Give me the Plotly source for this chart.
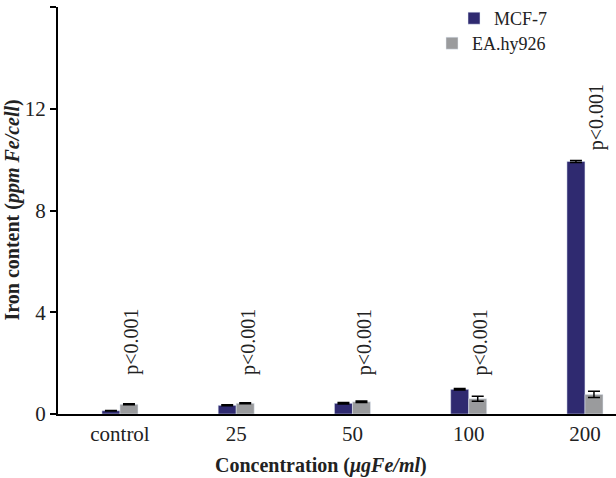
import plotly.graph_objects as go

categories = ["control", "25", "50", "100", "200"]
mcf7 = [0.13, 0.34, 0.42, 0.97, 9.93]
mcf7_err = [0.01, 0.02, 0.03, 0.03, 0.04]
ea = [0.38, 0.42, 0.48, 0.60, 0.77]
ea_err = [0.02, 0.02, 0.03, 0.10, 0.12]
p_labels = ["p<0.001"] * 5
p_heights = [1.45, 1.45, 1.45, 1.45, 10.27]
y_ticks = [0, 4, 8, 12, 16]

FONT = "Liberation Serif"
NAVY = "#2f2a70"
GRAY = "#9a9b9d"

x_idx = list(range(len(categories)))

fig = go.Figure()
fig.add_trace(go.Bar(
    x=x_idx, y=mcf7, name="MCF-7", marker_color=NAVY, showlegend=True,
    error_y=dict(type="data", array=mcf7_err, color="black", thickness=1.5, width=6),
    legend="legend",
))
fig.add_trace(go.Bar(
    x=x_idx, y=ea, name="EA.hy926", marker_color=GRAY, showlegend=True,
    error_y=dict(type="data", array=ea_err, color="black", thickness=1.5, width=6),
    legend="legend2",
))

for i, (lab, h) in enumerate(zip(p_labels, p_heights)):
    fig.add_annotation(x=i + 0.1, y=h, text=lab, textangle=-90, showarrow=False,
                       xanchor="center", yanchor="bottom",
                       font=dict(family=FONT, size=20, color="#222"))

fig.add_annotation(xref="paper", yref="paper", x=(12 - 58) / 558, y=0.5,
                   text="<b>Iron content (<i>ppm Fe/cell</i>)</b>", textangle=-90,
                   showarrow=False, xanchor="center", yanchor="middle",
                   font=dict(family=FONT, size=20, color="#222"))
fig.add_annotation(xref="paper", yref="paper", x=(321 - 58) / 558, y=-(466 - 414) / 408,
                   text="<b>Concentration (<i>μgFe/ml</i>)</b>",
                   showarrow=False, xanchor="center", yanchor="middle",
                   font=dict(family=FONT, size=20, color="#222"))

fig.update_layout(
    width=616, height=478,
    margin=dict(l=58, r=0, t=6, b=64),
    plot_bgcolor="white", paper_bgcolor="white",
    barmode="group", bargap=0.69, bargroupgap=0,
    showlegend=True,
    font=dict(family=FONT, size=20, color="#222"),
    xaxis=dict(
        range=[-0.533, 4.267], tickmode="array", tickvals=x_idx, ticktext=categories,
        showline=True, linecolor="black", linewidth=2, ticks="", showgrid=False,
        zeroline=False, tickfont=dict(family=FONT, size=21, color="#222"),
    ),
    yaxis=dict(
        range=[0, 16], tickmode="array", tickvals=y_ticks,
        showline=True, linecolor="black", linewidth=2, ticks="outside", ticklen=6,
        tickwidth=2, tickcolor="black", showgrid=False, zeroline=False,
        tickfont=dict(family=FONT, size=21, color="#222"),
    ),
    legend=dict(x=(454 - 58) / 558, y=1.0 + 7 / 408, xanchor="left", yanchor="top",
                bgcolor="rgba(0,0,0,0)", font=dict(family=FONT, size=18, color="#222")),
    legend2=dict(x=(432 - 58) / 558, y=(414 - 25) / 408, xanchor="left", yanchor="top",
                 bgcolor="rgba(0,0,0,0)", font=dict(family=FONT, size=18, color="#222")),
)

fig.write_html("out.html", config={"displayModeBar": False},
               post_script="document.body.style.margin='0';")
